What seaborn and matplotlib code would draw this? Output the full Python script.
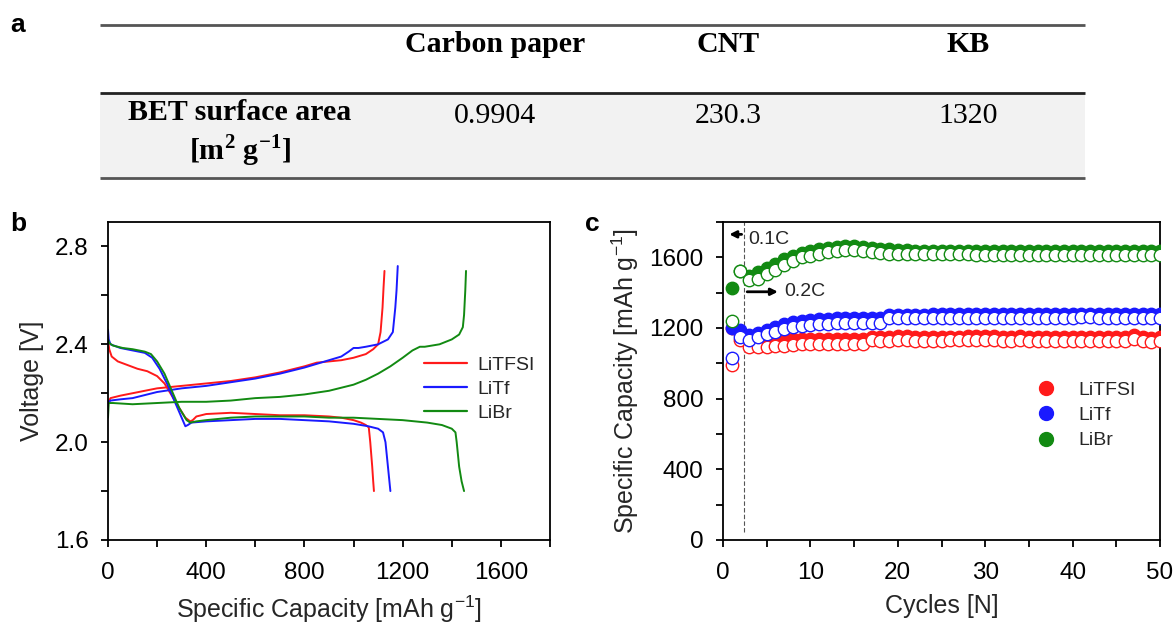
import numpy as np
import pandas as pd
import matplotlib
matplotlib.use("Agg")
import matplotlib.pyplot as plt
from matplotlib.lines import Line2D
from matplotlib.ticker import MultipleLocator, FormatStrFormatter
import seaborn as sns

# ---------------- data ----------------
salts = ["LiTFSI", "LiTf", "LiBr"]
colors = {"LiTFSI": "#ff1a1a", "LiTf": "#1a1aff", "LiBr": "#128a12"}

# table (panel a)
tbl_cols = ["Carbon paper", "CNT", "KB"]
tbl_row_label = ["BET surface area", r"[m$^{\mathbf{2}}$ g$^{\mathbf{-1}}$]"]
tbl_vals = ["0.9904", "230.3", "1320"]

# panel b: voltage profiles
dis_cap_LiTFSI = [0, 5, 15, 40, 80, 120, 160, 200, 230, 260, 290, 315, 335, 345, 360, 400, 500, 600, 700,
                  800, 900, 950, 1000, 1030, 1050, 1062, 1068, 1072, 1076, 1080, 1083]
dis_v_LiTFSI = [2.42, 2.38, 2.35, 2.33, 2.315, 2.30, 2.29, 2.27, 2.24, 2.19, 2.14, 2.10, 2.085, 2.09, 2.105,
                2.115, 2.12, 2.115, 2.11, 2.11, 2.105, 2.10, 2.09, 2.08, 2.07, 2.06, 2.0, 1.95, 1.90, 1.84, 1.80]
dis_cap_LiTf = [0, 3, 10, 50, 100, 150, 180, 210, 240, 270, 300, 315, 325, 340, 400, 500, 600, 700, 800,
                900, 1000, 1060, 1100, 1120, 1130, 1135, 1140, 1145, 1150]
dis_v_LiTf = [2.46, 2.42, 2.40, 2.385, 2.375, 2.365, 2.345, 2.30, 2.24, 2.17, 2.10, 2.065, 2.07, 2.08, 2.085,
              2.09, 2.095, 2.095, 2.09, 2.085, 2.075, 2.065, 2.055, 2.04, 2.0, 1.95, 1.90, 1.85, 1.80]
dis_cap_LiBr = [0, 5, 20, 60, 100, 150, 175, 200, 230, 260, 290, 320, 335, 360, 400, 500, 600, 700, 800,
                900, 1000, 1100, 1200, 1300, 1360, 1400, 1415, 1420, 1425, 1430, 1440, 1450]
dis_v_LiBr = [2.42, 2.405, 2.395, 2.385, 2.38, 2.37, 2.36, 2.33, 2.28, 2.21, 2.14, 2.09, 2.08, 2.085, 2.09,
              2.10, 2.105, 2.105, 2.105, 2.10, 2.10, 2.095, 2.09, 2.08, 2.07, 2.055, 2.04, 2.0, 1.95, 1.90,
              1.84, 1.80]

chg_cap_LiTFSI = [0, 10, 50, 100, 200, 300, 400, 500, 600, 700, 800, 850, 900, 950, 1000, 1050, 1080,
                  1100, 1110, 1118, 1122, 1126]
chg_v_LiTFSI = [2.16, 2.18, 2.19, 2.20, 2.22, 2.23, 2.24, 2.25, 2.265, 2.285, 2.31, 2.325, 2.33, 2.335,
                2.345, 2.36, 2.38, 2.40, 2.45, 2.55, 2.63, 2.70]
chg_cap_LiTf = [0, 10, 50, 100, 200, 300, 400, 500, 600, 700, 800, 850, 900, 950, 980, 1000, 1020, 1050,
                1100, 1140, 1160, 1170, 1175, 1180]
chg_v_LiTf = [2.16, 2.17, 2.175, 2.18, 2.205, 2.22, 2.23, 2.245, 2.26, 2.28, 2.305, 2.32, 2.335, 2.35, 2.37,
              2.385, 2.385, 2.39, 2.40, 2.42, 2.45, 2.55, 2.62, 2.72]
chg_cap_LiBr = [0, 3, 20, 100, 200, 300, 400, 500, 600, 700, 800, 900, 1000, 1050, 1100, 1150, 1200, 1240,
                1270, 1290, 1350, 1400, 1430, 1445, 1450, 1455, 1458]
chg_v_LiBr = [2.10, 2.16, 2.16, 2.155, 2.16, 2.165, 2.165, 2.17, 2.18, 2.185, 2.195, 2.21, 2.235, 2.255,
              2.28, 2.31, 2.345, 2.375, 2.39, 2.39, 2.40, 2.42, 2.44, 2.47, 2.52, 2.62, 2.70]

# panel c: cycling
cycles = list(range(1, 51))
fill_LiTFSI = [1200, 1170, 1120, 1120, 1125, 1130, 1130, 1135, 1135, 1135, 1135, 1138, 1138, 1138, 1138,
               1138, 1150, 1150, 1150, 1152, 1152, 1150, 1150, 1150, 1150, 1150, 1150, 1152, 1152, 1155,
               1152, 1150, 1150, 1152, 1150, 1150, 1150, 1150, 1150, 1150, 1150, 1150, 1150, 1148, 1148,
               1150, 1160, 1150, 1145, 1150]
open_LiTFSI = [990, 1130, 1090, 1090, 1095, 1100, 1100, 1105, 1108, 1110, 1110, 1110, 1110, 1110, 1110,
               1110, 1130, 1128, 1128, 1130, 1130, 1128, 1128, 1128, 1128, 1130, 1130, 1130, 1130, 1132,
               1130, 1128, 1128, 1130, 1128, 1128, 1128, 1128, 1128, 1128, 1128, 1128, 1128, 1125, 1125,
               1128, 1135, 1128, 1122, 1128]
fill_LiTf = [1200, 1190, 1160, 1170, 1190, 1205, 1220, 1232, 1240, 1245, 1250, 1252, 1255, 1258, 1258,
             1258, 1258, 1258, 1275, 1275, 1275, 1275, 1275, 1278, 1278, 1278, 1278, 1278, 1278, 1278,
             1278, 1278, 1278, 1278, 1278, 1278, 1278, 1278, 1278, 1278, 1280, 1282, 1280, 1280, 1280,
             1280, 1280, 1280, 1280, 1280]
open_LiTf = [1030, 1150, 1130, 1150, 1165, 1180, 1195, 1205, 1210, 1215, 1220, 1225, 1228, 1230, 1230,
             1230, 1230, 1230, 1255, 1255, 1255, 1255, 1255, 1258, 1258, 1258, 1258, 1258, 1258, 1258,
             1258, 1258, 1258, 1258, 1258, 1258, 1258, 1258, 1258, 1258, 1260, 1260, 1258, 1258, 1258,
             1258, 1258, 1258, 1258, 1258]
fill_LiBr = [1425, 1520, 1495, 1515, 1540, 1565, 1590, 1610, 1625, 1635, 1645, 1655, 1660, 1662, 1662,
             1658, 1652, 1648, 1645, 1640, 1640, 1638, 1638, 1638, 1638, 1638, 1638, 1638, 1636, 1636,
             1636, 1636, 1636, 1636, 1636, 1636, 1636, 1636, 1636, 1636, 1636, 1636, 1636, 1636, 1636,
             1636, 1636, 1636, 1636, 1636]
open_LiBr = [1240, 1520, 1470, 1480, 1505, 1530, 1555, 1580, 1600, 1610, 1620, 1630, 1635, 1640, 1640,
             1635, 1630, 1625, 1620, 1618, 1618, 1618, 1618, 1618, 1618, 1618, 1618, 1618, 1615, 1615,
             1615, 1615, 1615, 1615, 1615, 1615, 1615, 1615, 1615, 1615, 1615, 1615, 1615, 1615, 1615,
             1615, 1615, 1615, 1615, 1615]
rate_change_cycle = 2.35

# ---------------- style ----------------
sns.set_theme(style="ticks")
plt.rcParams["font.family"] = ["Liberation Sans", "DejaVu Sans"]
plt.rcParams["mathtext.fontset"] = "custom"
plt.rcParams["mathtext.rm"] = "Liberation Sans"
plt.rcParams["mathtext.bf"] = "Liberation Serif:bold"
plt.rcParams["axes.linewidth"] = 1.3
for k in ["xtick.major.width", "ytick.major.width", "xtick.minor.width", "ytick.minor.width"]:
    plt.rcParams[k] = 1.3
for k in ["xtick.major.size", "ytick.major.size", "xtick.minor.size", "ytick.minor.size"]:
    plt.rcParams[k] = 5
plt.rcParams["axes.edgecolor"] = "black"

W, H = 1176, 623
fig = plt.figure(figsize=(W / 100, H / 100), dpi=100)

TICK_FS = 17.5
LAB_FS = 18

# ---------------- panel a: table ----------------
axt = fig.add_axes([0, 0, 1, 1], zorder=0)
axt.set_xlim(0, W)
axt.set_ylim(H, 0)
axt.axis("off")
x0, x1 = 100, 1085
axt.axhspan(93, 178, xmin=x0 / W, xmax=x1 / W, color="#f2f2f2", lw=0)
for yy, c in [(25, "#555555"), (93, "#222222"), (178, "#555555")]:
    axt.plot([x0, x1], [yy, yy], color=c, lw=2.0, solid_capstyle="butt")
col_x = [495, 728, 968]
TFS = 21.5
for cx, lab in zip(col_x, tbl_cols):
    axt.text(cx, 45, lab, ha="center", va="center", family="Liberation Serif",
             fontweight="bold", fontsize=TFS, color="black")
for cx, v in zip(col_x, tbl_vals):
    axt.text(cx, 116, v, ha="center", va="center", family="Liberation Serif",
             fontsize=TFS, color="black")
axt.text(240, 113, tbl_row_label[0], ha="center", va="center", family="Liberation Serif",
         fontweight="bold", fontsize=TFS, color="black")
axt.text(240, 151, tbl_row_label[1], ha="center", va="center", family="Liberation Serif",
         fontweight="bold", fontsize=TFS, color="black")

for lab, xx, yy in [("a", 18, 25), ("b", 18, 224), ("c", 592, 224)]:
    axt.text(xx, yy, lab, ha="center", va="center", fontweight="bold", fontsize=19,
             family="Liberation Sans", color="black")

# ---------------- panel b ----------------
axb = fig.add_axes([108 / W, 1 - 540 / H, (550 - 108) / W, (540 - 222) / H])
prof = {
    "LiTFSI": (dis_cap_LiTFSI, dis_v_LiTFSI, chg_cap_LiTFSI, chg_v_LiTFSI),
    "LiTf": (dis_cap_LiTf, dis_v_LiTf, chg_cap_LiTf, chg_v_LiTf),
    "LiBr": (dis_cap_LiBr, dis_v_LiBr, chg_cap_LiBr, chg_v_LiBr),
}
for s in salts:
    dc, dv, cc, cv = prof[s]
    sns.lineplot(x=dc, y=dv, ax=axb, color=colors[s], lw=1.4, sort=False, estimator=None)
    sns.lineplot(x=cc, y=cv, ax=axb, color=colors[s], lw=1.4, sort=False, estimator=None)
axb.set_xlim(0, 1800)
axb.set_ylim(1.6, 2.9)
axb.xaxis.set_major_locator(MultipleLocator(400))
axb.xaxis.set_minor_locator(MultipleLocator(200))
axb.yaxis.set_major_locator(MultipleLocator(0.4))
axb.yaxis.set_minor_locator(MultipleLocator(0.2))
axb.yaxis.set_major_formatter(FormatStrFormatter("%.1f"))
axb.tick_params(which="both", direction="out", labelsize=TICK_FS, colors="black")
axb.tick_params(axis="x", pad=11)
axb.tick_params(axis="y", pad=9)
axb.set_xlabel(r"Specific Capacity [mAh g$^{-1}$]", fontsize=LAB_FS, labelpad=7)
axb.set_ylabel("Voltage [V]", fontsize=LAB_FS, labelpad=8)
hb = [Line2D([0], [0], color=colors[s], lw=1.6) for s in salts]
axb.legend(hb, salts, loc="upper left", bbox_to_anchor=(0.675, 0.632), frameon=False,
           fontsize=14, handlelength=2.2, handletextpad=0.55, labelspacing=0.33)

# ---------------- panel c ----------------
axc = fig.add_axes([723 / W, 1 - 540 / H, (1160 - 723) / W, (540 - 222) / H])
fills = {"LiTFSI": fill_LiTFSI, "LiTf": fill_LiTf, "LiBr": fill_LiBr}
opens = {"LiTFSI": open_LiTFSI, "LiTf": open_LiTf, "LiBr": open_LiBr}
for s in salts:
    sns.scatterplot(x=cycles, y=fills[s], ax=axc, color=colors[s], s=80, edgecolor=colors[s],
                    linewidth=1.0, zorder=3)
    sns.scatterplot(x=cycles, y=opens[s], ax=axc, color=colors[s], s=80, linewidth=1.0, zorder=4)
    coll = axc.collections[-1]
    coll.set_facecolor("white")
    coll.set_edgecolor(colors[s])
axc.axvline(rate_change_cycle, ymin=0.025, ymax=1, color="#555555", lw=0.8, ls=(0, (4, 2)), zorder=2)
axc.annotate("", xy=(0.4, 1730), xytext=(rate_change_cycle + 0.1, 1730),
             arrowprops=dict(arrowstyle="-|>", color="black", lw=2, mutation_scale=10))
axc.text(2.9, 1700, "0.1C", fontsize=14, va="center", ha="left")
axc.annotate("", xy=(6.6, 1405), xytext=(rate_change_cycle + 0.1, 1405),
             arrowprops=dict(arrowstyle="-|>", color="black", lw=2, mutation_scale=10))
axc.text(7.0, 1405, "0.2C", fontsize=14, va="center", ha="left")
axc.set_xlim(0, 50)
axc.set_ylim(0, 1800)
axc.xaxis.set_major_locator(MultipleLocator(10))
axc.xaxis.set_minor_locator(MultipleLocator(5))
axc.yaxis.set_major_locator(MultipleLocator(400))
axc.yaxis.set_minor_locator(MultipleLocator(200))
axc.tick_params(which="both", direction="out", labelsize=TICK_FS, colors="black")
axc.tick_params(axis="x", pad=11)
axc.tick_params(axis="y", pad=9)
axc.set_xlabel("Cycles [N]", fontsize=LAB_FS, labelpad=7)
axc.set_ylabel(r"Specific Capacity [mAh g$^{-1}$]", fontsize=LAB_FS, labelpad=6)
hc = [Line2D([0], [0], marker="o", ls="", color=colors[s], markersize=10) for s in salts]
axc.legend(hc, salts, loc="upper left", bbox_to_anchor=(0.655, 0.555), frameon=False,
           fontsize=14, handletextpad=0.65, labelspacing=0.4)

for ax in (axb, axc):
    for sp in ax.spines.values():
        sp.set_visible(True)
        sp.set_color("black")

fig.savefig("out.png", dpi=100)
